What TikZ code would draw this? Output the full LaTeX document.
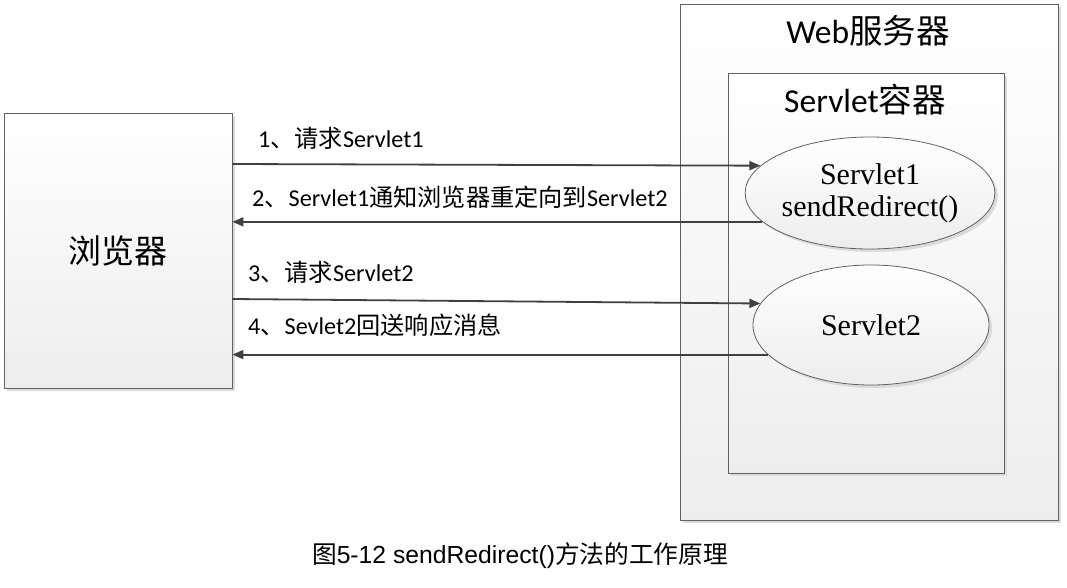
\documentclass[tikz,border=0pt]{standalone}
\usepackage{fontspec}
\setmainfont{Carlito}
\newfontfamily\cjk{Noto Sans CJK SC}
\newfontfamily\tms{Liberation Serif}
\newfontfamily\arl{Liberation Sans}
\usetikzlibrary{arrows.meta,shadows,shapes.geometric}
\newcommand{\zh}[1]{{\cjk #1}}

\tikzset{
  boxshade/.style={draw=black!62, line width=0.8pt, top color=white, bottom color=black!7,
    drop shadow={shadow xshift=3pt, shadow yshift=-3pt, fill=black!14, opacity=1}},
  framebox/.style={boxshade, rectangle, inner sep=0pt},
  servletnode/.style={boxshade, ellipse, inner sep=0pt, align=center,
    font=\tms\fontsize{30}{32}\selectfont},
  msg/.style={draw=black!75, line width=1.8pt, -{Triangle[length=11pt,width=9pt]}},
  msgtext/.style={anchor=west, inner sep=0pt, font=\fontsize{24.2}{28}\selectfont},
  titletext/.style={inner sep=0pt, font=\fontsize{33.5}{40}\selectfont}
}

\begin{document}
\begin{tikzpicture}[x=1pt,y=-1pt]
\useasboundingbox (0,0) rectangle (1067,587);

% server side
\node[framebox, minimum width=378pt, minimum height=516pt] (web) at (869,262) {};
\node[titletext] (webtitle) at (868,31) {Web\zh{服务器}};
\node[framebox, minimum width=276pt, minimum height=400pt] (cont) at (866,273) {};
\node[titletext] (conttitle) at (865,100) {Servlet\zh{容器}};
\node[servletnode, minimum width=244pt, minimum height=112pt] (s1) at (870,193) {Servlet1\\sendRedirect()};
\node[servletnode, minimum width=236pt, minimum height=120pt] (s2) at (871,325) {Servlet2};

% client side
\node[framebox, minimum width=228pt, minimum height=275pt, font=\cjk\fontsize{33}{38}\selectfont] (browser) at (118,250.5) {浏览器};

% requests and responses
\draw[msg] ([yshift=86.5pt]browser.east) -- (s1.166);
\draw[msg] (s1.195) -- (s1.195 -| browser.east);
\draw[msg] ([yshift=-48.5pt]browser.east) -- (s2.169);
\draw[msg] (s2.196) -- (s2.196 -| browser.east);

\node[msgtext] (m1) at (258,138) {1\zh{、请求}Servlet1};
\node[msgtext] (m2) at (252,197) {2\zh{、}Servlet1\zh{通知浏览器重定向到}Servlet2};
\node[msgtext] (m3) at (248,272) {3\zh{、请求}Servlet2};
\node[msgtext] (m4) at (248,325) {4\zh{、}Sevlet2\zh{回送响应消息}};

% caption
\node[inner sep=0pt, font=\arl\fontsize{24.7}{28}\selectfont] (cap) at (520,556) {\zh{图}5-12 sendRedirect()\zh{方法的工作原理}};
\end{tikzpicture}
\end{document}
